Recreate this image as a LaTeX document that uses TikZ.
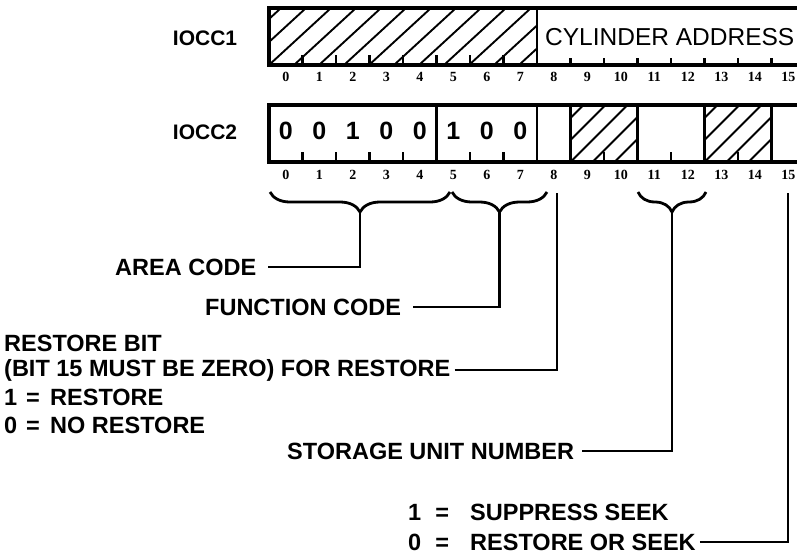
\documentclass[tikz,border=0pt]{standalone}
\usepackage{fontspec}
\setmainfont{Liberation Sans}
\newfontfamily\numfont{Liberation Serif}
\usetikzlibrary{decorations.pathreplacing,calc}
\begin{document}
\begin{tikzpicture}[x=1pt,y=-1pt,
  box/.style={line width=3.2pt},
  divline/.style={line width=2.8pt},
  tickline/.style={line width=2.2pt},
  hatchline/.style={line width=1.9pt},
  leader/.style={line width=2.8pt},
  brc/.style={decorate,decoration={brace,mirror,amplitude=20pt},line width=2.8pt},
  lbl/.style={font=\fontsize{23.5}{27}\selectfont\bfseries, inner sep=0pt, anchor=west},
  reglbl/.style={font=\fontsize{21}{24}\selectfont\bfseries, inner sep=0pt},
  digit/.style={font=\fontsize{25}{27}\selectfont\bfseries, inner sep=0pt},
  bitnum/.style={font=\numfont\bfseries\fontsize{14}{16}\selectfont, inner sep=0pt}
]
\useasboundingbox (0,0) rectangle (797,555);
\clip (0,0) rectangle (797,555);
\def\bw{33.5}
\def\xo{269}

% ---------- IOCC1 ----------
\node[reglbl] (iocc1) at (205,38) {IOCC1};
\begin{scope}
  \clip (\xo,8) rectangle ({\xo+8*\bw},65);
  \foreach \k in {-3,...,12} \draw[hatchline] ({\xo+\k*25},65) -- ++(62,-57);
\end{scope}
\draw[box] (820,8) -- (\xo,8) -- (\xo,65) -- (820,65);
\draw[divline] ({\xo+8*\bw},8) -- ({\xo+8*\bw},65);
\foreach \i in {1,...,7} \draw[tickline] ({\xo+\i*\bw},65) -- ++(0,-10);
\foreach \i in {9,...,15} \draw[tickline] ({\xo+\i*\bw},65) -- ++(0,-7);
\node[font=\fontsize{24.5}{26}\selectfont, inner sep=0pt, anchor=west] (cyl) at (545,37) {CYLINDER ADDRESS};
\foreach \i in {0,...,15} \node[bitnum] (ra\i) at ({\xo+(\i+0.5)*\bw},77) {\i};

% ---------- IOCC2 ----------
\node[reglbl] (iocc2) at (205,132) {IOCC2};
\begin{scope}
  \clip ({\xo+9*\bw},105) rectangle ({\xo+11*\bw},162);
  \foreach \k in {-3,...,3} \draw[hatchline] ({\xo+9*\bw+\k*22},162) -- ++(57,-57);
\end{scope}
\begin{scope}
  \clip ({\xo+13*\bw},105) rectangle ({\xo+15*\bw},162);
  \foreach \k in {-3,...,3} \draw[hatchline] ({\xo+13*\bw+\k*22},162) -- ++(57,-57);
\end{scope}
\draw[box] (820,105) -- (\xo,105) -- (\xo,162) -- (820,162);
\foreach \i in {5,8,9,11,13,15} \draw[divline] ({\xo+\i*\bw},105) -- ({\xo+\i*\bw},162);
\foreach \i in {1,2,3,4,6,7,10,12,14} \draw[tickline] ({\xo+\i*\bw},162) -- ++(0,-10);
\foreach \i/\v in {0/0,1/0,2/1,3/0,4/0,5/1,6/0,7/0}
  \node[digit] (d\i) at ({\xo+(\i+0.5)*\bw},131) {\v};
\foreach \i in {0,...,15} \node[bitnum] (rb\i) at ({\xo+(\i+0.5)*\bw},175) {\i};

% ---------- braces ----------
\draw[brc] (270,192) -- (450,192);
\draw[brc] (452,192) -- (547,192);
\draw[brc] (638,192) -- (706,192);
\coordinate (tipA) at (360,212);
\coordinate (tipF) at (499.5,212);
\coordinate (tipS) at (672,212);
\coordinate (top8) at (557,193);
\coordinate (top15) at (788,193);

% ---------- labels ----------
\node[lbl] (area) at (115,267) {AREA CODE};
\node[lbl] (func) at (205,307) {FUNCTION CODE};
\node[lbl] (rest1) at (4,343) {RESTORE BIT};
\node[lbl] (rest2) at (4,370) {(BIT 15 MUST BE ZERO) FOR RESTORE};
\node[lbl] (rest3) at (4,397) {\makebox[46pt][l]{1\hspace{9pt}=}RESTORE};
\node[lbl] (rest4) at (4,425) {\makebox[46pt][l]{0\hspace{9pt}=}NO RESTORE};
\node[lbl] (stor) at (287,451) {STORAGE UNIT NUMBER};
\node[lbl] (seek1) at (408,512) {\makebox[62pt][l]{1\hspace{14pt}=}SUPPRESS SEEK};
\node[lbl] (seek2) at (408,542) {\makebox[62pt][l]{0\hspace{14pt}=}RESTORE OR SEEK};

% ---------- leaders ----------
\draw[leader] ([xshift=12pt]area.east) -| (tipA);
\draw[leader] ([xshift=12pt]func.east) -| (tipF);
\draw[leader] ([xshift=4pt]rest2.east) -| (top8);
\draw[leader] ([xshift=8pt]stor.east) -| (tipS);
\draw[leader] ([xshift=4pt]seek2.east) -| (top15);
\end{tikzpicture}
\end{document}
